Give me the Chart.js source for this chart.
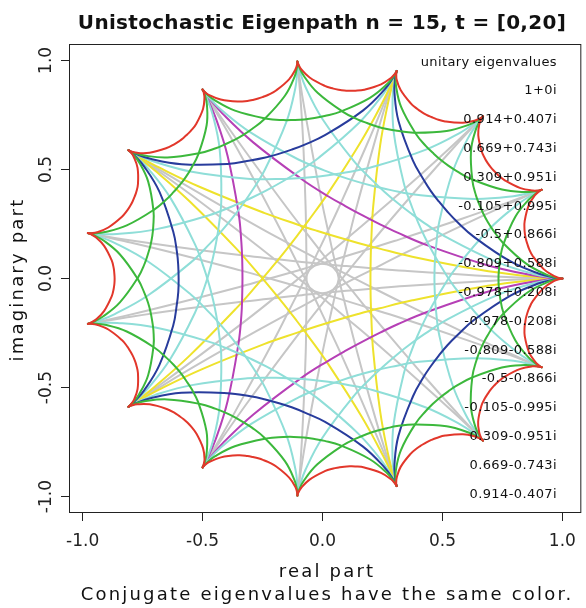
<!DOCTYPE html>
<html>
<head>
<meta charset="utf-8">
<script src="https://cdn.jsdelivr.net/npm/chart.js@4.4.1/dist/chart.umd.min.js"></script>
<style>
  body { margin: 0; background: #fff; }
  canvas { display: block; }
</style>
</head>
<body>
<canvas id="mycanvas" width="586" height="608"></canvas>
<script>
// the 15 unitary eigenvalues (legend order)
var eigenLabels = ['1+0i', '0.914+0.407i', '0.669+0.743i', '0.309+0.951i', '-0.105+0.995i',
  '-0.5+0.866i', '-0.809+0.588i', '-0.978+0.208i', '-0.978-0.208i', '-0.809-0.588i',
  '-0.5-0.866i', '-0.105-0.995i', '0.309-0.951i', '0.669-0.743i', '0.914-0.407i'];
var eigenRe = [1, 0.914, 0.669, 0.309, -0.105, -0.5, -0.809, -0.978, -0.978, -0.809, -0.5, -0.105, 0.309, 0.669, 0.914];
var eigenIm = [0, 0.407, 0.743, 0.951, 0.995, 0.866, 0.588, 0.208, -0.208, -0.588, -0.866, -0.995, -0.951, -0.743, -0.407];

// one arc of each path, starting at 1+0i (re, im)
var arcStep1 = [[1,0],[0.998,0.000],[0.988,0.002],[0.964,0.012],[0.922,0.043],[0.877,0.102],[0.861,0.136],[0.854,0.158],[0.848,0.180],
  [0.844,0.203],[0.842,0.226],[0.843,0.264],[0.860,0.336],[0.885,0.381],[0.904,0.400],[0.912,0.406],[0.914,0.407]];
var arcStep2 = [[1,0],[0.996,0.000],[0.978,0.003],[0.931,0.019],[0.849,0.068],[0.751,0.165],[0.711,0.222],[0.689,0.259],[0.670,0.298],
  [0.654,0.339],[0.640,0.380],[0.625,0.448],[0.619,0.585],[0.638,0.679],[0.657,0.724],[0.667,0.740],[0.669,0.743]];
var arcStep3 = [[1,0],[0.995,0.000],[0.969,0.004],[0.903,0.022],[0.784,0.078],[0.630,0.192],[0.561,0.260],[0.522,0.305],[0.485,0.353],
  [0.451,0.402],[0.421,0.454],[0.377,0.540],[0.317,0.721],[0.300,0.852],[0.303,0.920],[0.308,0.946],[0.309,0.951]];
var arcStep4 = [[1,0],[0.994,0.000],[0.962,0.004],[0.880,0.021],[0.728,0.075],[0.522,0.186],[0.425,0.254],[0.368,0.299],[0.312,0.347],
  [0.259,0.397],[0.208,0.450],[0.130,0.539],[-0.001,0.732],[-0.071,0.878],[-0.097,0.957],[-0.104,0.988],[-0.105,0.995]];
var arcStep5 = [[1,0],[0.993,0.000],[0.957,0.003],[0.863,0.017],[0.684,0.062],[0.435,0.153],[0.313,0.210],[0.240,0.248],[0.167,0.289],
  [0.095,0.332],[0.025,0.376],[-0.085,0.454],[-0.289,0.624],[-0.417,0.756],[-0.476,0.830],[-0.496,0.860],[-0.500,0.866]];
var arcStep6 = [[1,0],[0.992,0.000],[0.953,0.002],[0.851,0.011],[0.655,0.040],[0.374,0.100],[0.234,0.138],[0.148,0.163],[0.062,0.190],
  [-0.024,0.219],[-0.108,0.249],[-0.244,0.301],[-0.506,0.417],[-0.682,0.509],[-0.770,0.561],[-0.803,0.583],[-0.809,0.588]];
var arcStep7 = [[1,0],[0.992,0.000],[0.951,0.001],[0.845,0.004],[0.639,0.014],[0.343,0.035],[0.193,0.048],[0.100,0.057],[0.054,0.061],
  [0.007,0.066],[-0.040,0.071],[-0.086,0.076],[-0.178,0.087],[-0.328,0.105],[-0.622,0.147],[-0.826,0.179],[-0.930,0.198],[-0.970,0.206],[-0.978,0.208]];

var arcs = [arcStep1, arcStep2, arcStep3, arcStep4, arcStep5, arcStep6, arcStep7];
var stepColors = ['#e2372b', '#3cb83c', '#283c9c', '#8fded8', '#b640b6', '#eee22c', '#c6c6c6'];

var xTickVals = [-1, -0.5, 0, 0.5, 1];
var xTickLabels = ['-1.0', '-0.5', '0.0', '0.5', '1.0'];
var yTickVals = [-1, -0.5, 0, 0.5, 1];
var yTickLabels = ['-1.0', '-0.5', '0.0', '0.5', '1.0'];
var xMin = -1.057, xMax = 1.079, yMin = -1.075, yMax = 1.075;

var fam = "'DejaVu Sans', Verdana, sans-serif";

// each arc = eigenvalue * template arc ; a path jumps by its step until it returns to 1
var datasets = [];
for (var k = 1; k <= 7; k++) {
  var j = 0;
  do {
    var a = eigenRe[j], b = eigenIm[j];
    var pts = [];
    for (var p = 0; p < arcs[k - 1].length; p++) {
      var x = arcs[k - 1][p][0], y = arcs[k - 1][p][1];
      pts.push({ x: a * x - b * y, y: b * x + a * y });
    }
    datasets.push({
      data: pts,
      showLine: true,
      borderColor: stepColors[k - 1],
      borderWidth: 2,
      pointRadius: 0,
      tension: 0.4,
      borderCapStyle: 'round',
      borderJoinStyle: 'round'
    });
    j = (j + k) % 15;
  } while (j !== 0);
}

var decor = {
  id: 'decor',
  afterDraw: function(chart) {
    var ctx = chart.ctx, ca = chart.chartArea;
    ctx.save();
    ctx.strokeStyle = '#222';
    ctx.lineWidth = 1;
    ctx.strokeRect(ca.left + 0.5, ca.top + 0.5, ca.right - ca.left - 1, ca.bottom - ca.top - 1);

    ctx.fillStyle = '#111';
    ctx.textAlign = 'center';
    ctx.textBaseline = 'alphabetic';
    ctx.font = 'bold 20px ' + fam;
    ctx.letterSpacing = '0.3px';
    ctx.fillText('Unistochastic Eigenpath n = 15, t = [0,20]', 322, 29);

    ctx.font = '18px ' + fam;
    ctx.letterSpacing = '2.2px';
    ctx.fillText('real part', 327, 577);
    ctx.fillText('Conjugate eigenvalues have the same color.', 327, 599.5);
    ctx.save();
    ctx.translate(22.5, 279.5);
    ctx.rotate(-Math.PI / 2);
    ctx.fillText('imaginary part', 0, 0);
    ctx.restore();

    ctx.font = '13px ' + fam;
    ctx.letterSpacing = '0.4px';
    ctx.textAlign = 'right';
    ctx.textBaseline = 'middle';
    ctx.fillText('unitary eigenvalues', 557, 62.2);
    for (var i = 0; i < eigenLabels.length; i++) {
      ctx.fillText(eigenLabels[i], 557, 62.2 + 28.81 * (i + 1));
    }
    ctx.restore();
  }
};

var ctx = document.getElementById('mycanvas');
var eigenGraph = new Chart(ctx, {
  type: 'scatter',
  data: { datasets: datasets },
  options: {
    responsive: false,
    devicePixelRatio: 1,
    animation: false,
    events: [],
    layout: { padding: { left: 0, right: 3, top: 44, bottom: 0 } },
    plugins: { legend: { display: false }, tooltip: { enabled: false } },
    scales: {
      x: {
        type: 'linear', min: xMin, max: xMax,
        afterBuildTicks: function(s) { s.ticks = xTickVals.map(function(v) { return { value: v }; }); },
        afterFit: function(s) { s.height = 95; },
        ticks: {
          autoSkip: false, maxRotation: 0, padding: 10, color: '#222',
          font: { family: fam, size: 17 },
          callback: function(v, i) { return xTickLabels[i]; }
        },
        grid: { display: true, drawOnChartArea: false, drawTicks: true, tickLength: 8, color: '#222' },
        border: { display: false }
      },
      y: {
        type: 'linear', min: yMin, max: yMax,
        afterBuildTicks: function(s) { s.ticks = yTickVals.map(function(v) { return { value: v }; }); },
        afterFit: function(s) { s.width = 69; },
        ticks: {
          autoSkip: false, minRotation: 90, maxRotation: 90, crossAlign: 'center', padding: -2, color: '#222',
          font: { family: fam, size: 17 },
          callback: function(v, i) { return yTickLabels[i]; }
        },
        grid: { display: true, drawOnChartArea: false, drawTicks: true, tickLength: 8, color: '#222' },
        border: { display: false }
      }
    }
  },
  plugins: [decor]
});
</script>
</body>
</html>
